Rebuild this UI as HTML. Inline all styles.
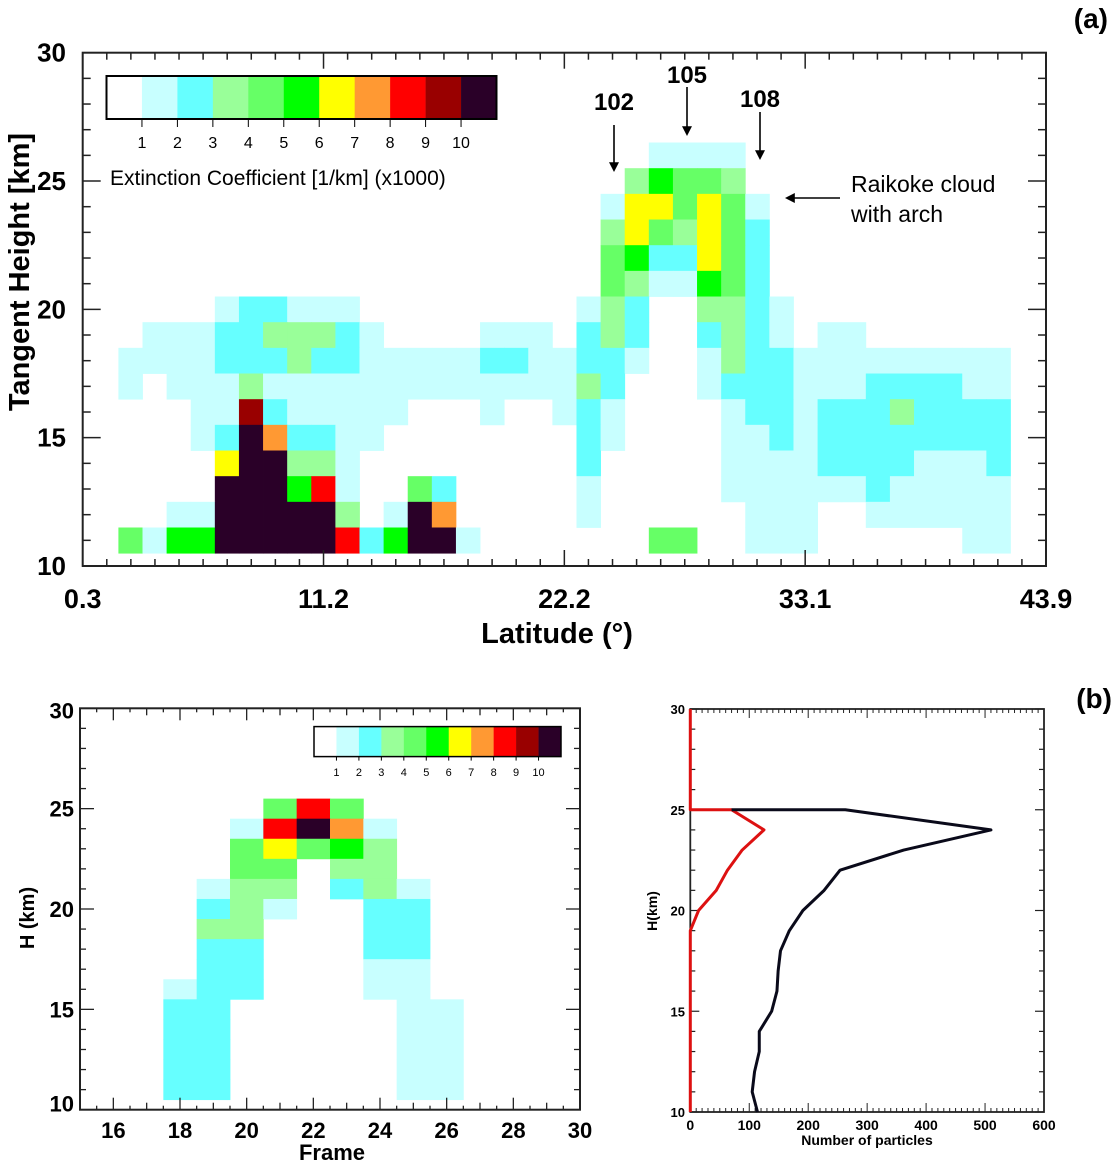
<!DOCTYPE html>
<html><head><meta charset="utf-8"><style>
html,body{margin:0;padding:0;background:#fff;}
svg{display:block;}
.b{font-family:"Liberation Sans Narrow","Liberation Sans",sans-serif;font-weight:bold;fill:#000;}
.r{font-family:"Liberation Sans",sans-serif;fill:#000;}
</style></head><body>
<svg id="fig" width="1114" height="1163" viewBox="0 0 1114 1163" xmlns="http://www.w3.org/2000/svg">
<g id="gA"></g>
<g id="gB1"></g>
<g id="gB2"></g>
</svg>
<script>
// ---------- Panel (a) data ----------
const aHeights = [26,25,24,23,22,21,20,19,18,17,16,15,14,13,12,11];
const aRows = [
"0000000000000000000000111100000000000",
"0000000000000000000003544300000000000",
"0000000000000000000016646410000000000",
"0000000000000000000036436420000000000",
"0000000000000000000045226420000000000",
"0000000000000000000043115420000000000",
"0000122111000000000132003321000000000",
"0111223332100001110232002321011000000",
"1111222322111112211221001322111111111",
"1011131111111111111320001222111222211",
"0001192111110001001210000122122232222",
"00012A7221100000000210000112122222222",
"00006AA331000000000200000111122221112",
"0000AAA581004200000100000111111211111",
"0011AAAAA301A700000100000011100111111",
"4155AAAAA825AA10000000440011100000011"
];
const aXTicks = ["0.3","11.2","22.2","33.1","43.9"];
const aYTicks = [10,15,20,25,30];
const cbLabels = ["1","2","3","4","5","6","7","8","9","10"];
const palette = ["#FFFFFF","#C8FFFF","#66FFFF","#99FF99","#66FF66","#00FF00","#FFFF00","#FF9933","#FF0000","#990000","#2A0028"];

// ---------- Panel (b) heatmap data ----------
const bFrames = [18,19,20,21,22,23,24,25,26];
const bHeights = [25,24,23,22,21,20,19,18,17,16,15,14,13,12,11];
const bRows = [
"000484000",
"0018A7100",
"004645300",
"004403300",
"013302310",
"023100220",
"033000220",
"022000220",
"022000110",
"122000110",
"220000011",
"220000011",
"220000011",
"220000011",
"220000011"
];
const bXTicks = [16,18,20,22,24,26,28,30];
const bYTicks = [10,15,20,25,30];

// ---------- Panel (b) profile data ----------
const blackH = [10,11,12,13,14,15,16,17,18,19,20,21,22,23,24,25,25];
const blackN = [114,105,109,117,117,138,147,149,153,168,191,227,254,362,510,263,70];
const redH = [10,11,12,13,14,15,16,17,18,19,20,21,22,23,24,25,25,30];
const redN = [0,0,0,0,0,0,0,0,0,0,14,44,63,88,125,70,0,0];
const pXTicks = [0,100,200,300,400,500,600];
const pYTicks = [10,15,20,25,30];

const NS="http://www.w3.org/2000/svg";
function mk(parent,tag,attrs,text){const e=document.createElementNS(NS,tag);for(const k in attrs)e.setAttribute(k,attrs[k]);if(text!==undefined)e.textContent=text;parent.appendChild(e);return e;}
function val(ch){return ch==='A'?10:parseInt(ch,10);}

// ===== Panel (a) =====
const gA=document.getElementById('gA');
const A={l:82.7,r:1046,t:52.7,b:566,col0:118.4,cw:24.11};
const ayS=h=>A.b-(h-10)*(A.b-A.t)/20;
const axCol=i=>A.col0+i*A.cw;
aRows.forEach((row,ri)=>{
  const h=aHeights[ri];
  for(let c=0;c<row.length;c++){
    const v=val(row[c]); if(v===0) continue;
    const r=mk(gA,'rect',{x:axCol(c),y:ayS(h+0.5),width:A.cw+0.4,height:ayS(h-0.5)-ayS(h+0.5)+0.4,fill:palette[v]});
    
    
  }
});
let fr=mk(gA,'rect',{x:A.l,y:A.t,width:A.r-A.l,height:A.b-A.t,fill:'none',stroke:'#222','stroke-width':2});

for(let h=10;h<=30;h++){const y=ayS(h);const L=h%5===0?18:8;
  mk(gA,'line',{x1:A.l,x2:A.l+L,y1:y,y2:y,stroke:'#222','stroke-width':1.5});
  mk(gA,'line',{x1:A.r,x2:A.r-L,y1:y,y2:y,stroke:'#222','stroke-width':1.5});}
aYTicks.forEach(t=>{const e=mk(gA,'text',{x:66,y:ayS(t)+9,'text-anchor':'end','font-size':26,class:'b'},String(t));
  });
const xStep=(A.r-A.l)/40;
for(let k=0;k<=40;k++){const x=A.l+k*xStep;const L=k%10===0?16:7;
  mk(gA,'line',{x1:x,x2:x,y1:A.b,y2:A.b-L,stroke:'#222','stroke-width':1.5});
  mk(gA,'line',{x1:x,x2:x,y1:A.t,y2:A.t+L,stroke:'#222','stroke-width':1.5});}
aXTicks.forEach((t,i)=>{const e=mk(gA,'text',{x:A.l+i*10*xStep,y:608,'text-anchor':'middle','font-size':27,class:'b'},t);
  });
let t1=mk(gA,'text',{x:557,y:643,'text-anchor':'middle','font-size':29,class:'b'},'Latitude (°)');

let t2=mk(gA,'text',{x:0,y:0,'text-anchor':'middle','font-size':29,class:'b',transform:'translate(29,272) rotate(-90)'},'Tangent Height [km]');

let pa=mk(gA,'text',{x:1108,y:28,'text-anchor':'end','font-size':28,class:'b'},'(a)');

const cbA={x:106.5,y:76,w:390,h:43};
const segA=cbA.w/11;
for(let k=0;k<11;k++){const r=mk(gA,'rect',{x:cbA.x+k*segA,y:cbA.y,width:segA+0.3,height:cbA.h,fill:palette[k]});
  }
mk(gA,'rect',{x:cbA.x,y:cbA.y,width:cbA.w,height:cbA.h,fill:'none',stroke:'#000','stroke-width':2});
cbLabels.forEach((l,i)=>{const x=cbA.x+(i+1)*segA;
  mk(gA,'line',{x1:x,x2:x,y1:cbA.y+cbA.h,y2:cbA.y+cbA.h+8,stroke:'#000','stroke-width':1});
  const e=mk(gA,'text',{x:x,y:148,'text-anchor':'middle','font-size':16,class:'r'},l);
  });
let cbt=mk(gA,'text',{x:110,y:185,'font-size':21,class:'r'},'Extinction  Coefficient  [1/km] (x1000)');

function arrow(g,x1,y1,x2,y2,name){const gg=mk(g,'g',{});
  const ang=Math.atan2(y2-y1,x2-x1);mk(gg,'line',{x1:x1,y1:y1,x2:x2-8*Math.cos(ang),y2:y2-8*Math.sin(ang),stroke:'#000','stroke-width':1.6});
  const a1=ang+Math.PI*0.85,a2=ang-Math.PI*0.85;
  mk(gg,'polygon',{points:`${x2},${y2} ${x2+11*Math.cos(a1)},${y2+11*Math.sin(a1)} ${x2+11*Math.cos(a2)},${y2+11*Math.sin(a2)}`,fill:'#000'});}
[["102",614,110,125,172],["105",687,83,87,136],["108",760,107,112,160]].forEach(a=>{
  const e=mk(gA,'text',{x:a[1],y:a[2],'text-anchor':'middle','font-size':24,class:'b',style:'font-family:"Liberation Sans",sans-serif'},a[0]);
  
  arrow(gA,a[1],a[3],a[1],a[4],'arrow-'+a[0]);});
let rk=mk(gA,'text',{x:851,y:192,'font-size':23,class:'r'},'Raikoke cloud');

let rk2=mk(gA,'text',{x:851,y:222,'font-size':23,class:'r'},'with arch');

arrow(gA,840,198,785,198,'arrow-raikoke');

// ===== Panel (b) heatmap =====
const gB=document.getElementById('gB1');
const B={l:80,r:580,t:708.3,b:1109.7};
const bxS=f=>B.l+(f-15)*(B.r-B.l)/15;
const byS=h=>B.b-(h-10)*(B.b-B.t)/20;
bRows.forEach((row,ri)=>{const h=bHeights[ri];
  for(let c=0;c<row.length;c++){const v=val(row[c]);if(v===0)continue;const f=bFrames[c];
    const r=mk(gB,'rect',{x:bxS(f-0.5),y:byS(h+0.5),width:bxS(f+0.5)-bxS(f-0.5)+0.4,height:byS(h-0.5)-byS(h+0.5)+0.4,fill:palette[v]});
    }});
let frb=mk(gB,'rect',{x:B.l,y:B.t,width:B.r-B.l,height:B.b-B.t,fill:'none',stroke:'#222','stroke-width':2});

for(let h=10;h<=30;h++){const y=byS(h);const L=h%5===0?14:6;
  mk(gB,'line',{x1:B.l,x2:B.l+L,y1:y,y2:y,stroke:'#222','stroke-width':1.3});
  mk(gB,'line',{x1:B.r,x2:B.r-L,y1:y,y2:y,stroke:'#222','stroke-width':1.3});}
for(let f=15;f<=30;f+=0.5){const x=bxS(f);const L=(f%2===0)?12:(f%1===0?7:4);
  mk(gB,'line',{x1:x,x2:x,y1:B.b,y2:B.b-L,stroke:'#222','stroke-width':1.3});
  mk(gB,'line',{x1:x,x2:x,y1:B.t,y2:B.t+L,stroke:'#222','stroke-width':1.3});}
bYTicks.forEach(t=>{const e=mk(gB,'text',{x:74,y:byS(t)+(t===30?10:(t===10?2:8)),'text-anchor':'end','font-size':22,class:'b'},String(t));
  });
bXTicks.forEach(t=>{const e=mk(gB,'text',{x:bxS(t),y:1138,'text-anchor':'middle','font-size':22,class:'b'},String(t));
  });
let bt1=mk(gB,'text',{x:332,y:1160,'text-anchor':'middle','font-size':22,class:'b'},'Frame');

let bt2=mk(gB,'text',{x:0,y:0,'text-anchor':'middle','font-size':20,class:'b',transform:'translate(34,918) rotate(-90)'},'H (km)');

const cbB={x:314,y:726.6,w:247,h:30};
const segB=cbB.w/11;
for(let k=0;k<11;k++){const r=mk(gB,'rect',{x:cbB.x+k*segB,y:cbB.y,width:segB+0.3,height:cbB.h,fill:palette[k]});
  }
mk(gB,'rect',{x:cbB.x,y:cbB.y,width:cbB.w,height:cbB.h,fill:'none',stroke:'#000','stroke-width':1.5});
cbLabels.forEach((l,i)=>{const x=cbB.x+(i+1)*segB;
  mk(gB,'line',{x1:x,x2:x,y1:cbB.y+cbB.h,y2:cbB.y+cbB.h+4,stroke:'#000','stroke-width':1});
  const e=mk(gB,'text',{x:x,y:776,'text-anchor':'middle','font-size':11,class:'r'},l);
  });

// ===== Panel (b) profile =====
const gP=document.getElementById('gB2');
const P={l:690.3,r:1044,t:709,b:1112};
const pxS=n=>P.l+n*(P.r-P.l)/600;
const pyS=h=>P.b-(h-10)*(P.b-P.t)/20;
let frp=mk(gP,'rect',{x:P.l,y:P.t,width:P.r-P.l,height:P.b-P.t,fill:'none',stroke:'#222','stroke-width':1.8});

for(let h=10;h<=30;h++){const y=pyS(h);const L=h%5===0?9:5;
  mk(gP,'line',{x1:P.l,x2:P.l+L,y1:y,y2:y,stroke:'#222','stroke-width':1.2});
  mk(gP,'line',{x1:P.r,x2:P.r-L,y1:y,y2:y,stroke:'#222','stroke-width':1.2});}
for(let n=0;n<=600;n+=10){const x=pxS(n);const L=n%100===0?9:4;
  mk(gP,'line',{x1:x,x2:x,y1:P.b,y2:P.b-L,stroke:'#222','stroke-width':1});
  mk(gP,'line',{x1:x,x2:x,y1:P.t,y2:P.t+L,stroke:'#222','stroke-width':1});}
pYTicks.forEach(t=>{const e=mk(gP,'text',{x:685,y:pyS(t)+5,'text-anchor':'end','font-size':13,class:'b'},String(t));
  });
pXTicks.forEach(t=>{const e=mk(gP,'text',{x:pxS(t),y:1130,'text-anchor':'middle','font-size':14,class:'b'},String(t));
  });
let pt1=mk(gP,'text',{x:867,y:1145,'text-anchor':'middle','font-size':14,class:'b'},'Number of particles');

let pt2=mk(gP,'text',{x:0,y:0,'text-anchor':'middle','font-size':14,class:'b',transform:'translate(657,911) rotate(-90)'},'H(km)');

let pb=mk(gP,'text',{x:1112,y:708,'text-anchor':'end','font-size':28,class:'b'},'(b)');

let rl=mk(gP,'polyline',{points:redH.map((h,i)=>pxS(redN[i])+','+pyS(h)).join(' '),fill:'none',stroke:'#DD1111','stroke-width':3,'stroke-linejoin':'round'});

let bl=mk(gP,'polyline',{points:blackH.map((h,i)=>pxS(blackN[i])+','+pyS(h)).join(' '),fill:'none',stroke:'#0a0a1a','stroke-width':3,'stroke-linejoin':'round'});

</script>
</body></html>
